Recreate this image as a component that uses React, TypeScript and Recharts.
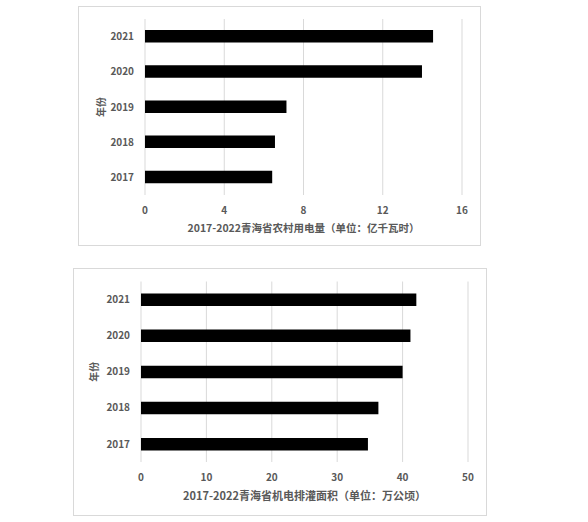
import React from 'react';
import { BarChart, Bar, XAxis, YAxis, CartesianGrid } from 'recharts';

const years = ['2017', '2018', '2019', '2020', '2021'];
const electricity = [6.42, 6.56, 7.14, 13.98, 14.54];
const irrigation = [34.7, 36.3, 40.0, 41.2, 42.1];
const ticks1 = [0, 4, 8, 12, 16];
const ticks2 = [0, 10, 20, 30, 40, 50];
const title1 = '2017-2022青海省农村用电量（单位：亿千瓦时）';
const title2 = '2017-2022青海省机电排灌面积（单位：万公顷）';
const yTitle = '年份';

const data1 = years.map((y, i) => ({ year: y, value: electricity[i] }));
const data2 = years.map((y, i) => ({ year: y, value: irrigation[i] }));

const FONT = "'Noto Sans CJK SC', 'Liberation Sans', sans-serif";
const TEXT = '#595959';
const GRID = '#d9d9d9';

const YTitle = (props: any) => {
  const { viewBox, value, dx } = props;
  const x = viewBox.x + dx;
  const y = viewBox.y + viewBox.height / 2;
  return (
    <text
      x={x}
      y={y}
      transform={`rotate(-90 ${x} ${y})`}
      textAnchor="middle"
      dominantBaseline="central"
      fill={TEXT}
      fontFamily={FONT}
      fontWeight="bold"
      fontSize={10}
    >
      {value}
    </text>
  );
};

const XTitle = (props: any) => {
  const { viewBox, value, dy, size } = props;
  const x = viewBox.x + viewBox.width / 2;
  const y = viewBox.y + dy;
  return (
    <text
      x={x}
      y={y}
      textAnchor="middle"
      dominantBaseline="central"
      fill={TEXT}
      fontFamily={FONT}
      fontWeight="bold"
      fontSize={size}
    >
      {value}
    </text>
  );
};

const tickStyle = { fill: TEXT, fontFamily: FONT, fontWeight: 'bold', fontSize: 10 } as any;

export default function App() {
  return (
    <div>
      <div
        style={{
          position: 'absolute',
          left: 78,
          top: 6,
          width: 401,
          height: 238,
          border: `1px solid ${GRID}`,
          background: '#fff',
        }}
      >
        <BarChart
          width={401}
          height={238}
          data={data1}
          layout="vertical"
          margin={{ top: 12, right: 18, left: 0, bottom: 0 }}
        >
          <CartesianGrid horizontal={false} stroke={GRID} />
          <XAxis
            type="number"
            domain={[0, 16]}
            ticks={ticks1}
            axisLine={false}
            tickLine={false}
            tickSize={0}
            tickMargin={12}
            height={50}
            tick={tickStyle}
            label={<XTitle value={title1} dy={32.5} size={10.5} />}
          />
          <YAxis
            type="category"
            dataKey="year"
            reversed
            axisLine={false}
            tickLine={false}
            tickSize={0}
            tickMargin={11}
            width={66}
            tick={tickStyle}
            label={<YTitle value={yTitle} dx={21} />}
          />
          <Bar dataKey="value" fill="#000" barSize={12.5} isAnimationActive={false} />
        </BarChart>
      </div>
      <div
        style={{
          position: 'absolute',
          left: 73,
          top: 268,
          width: 412,
          height: 246,
          border: `1px solid ${GRID}`,
          background: '#fff',
        }}
      >
        <BarChart
          width={412}
          height={246}
          data={data2}
          layout="vertical"
          margin={{ top: 12.5, right: 18, left: 0, bottom: 0 }}
        >
          <CartesianGrid horizontal={false} stroke={GRID} />
          <XAxis
            type="number"
            domain={[0, 50]}
            ticks={ticks2}
            axisLine={false}
            tickLine={false}
            tickSize={0}
            tickMargin={12}
            height={53}
            tick={tickStyle}
            label={<XTitle value={title2} dy={33} size={11} />}
          />
          <YAxis
            type="category"
            dataKey="year"
            reversed
            axisLine={false}
            tickLine={false}
            tickSize={0}
            tickMargin={11}
            width={67}
            tick={tickStyle}
            label={<YTitle value={yTitle} dx={19} />}
          />
          <Bar dataKey="value" fill="#000" barSize={12.5} isAnimationActive={false} />
        </BarChart>
      </div>
    </div>
  );
}
